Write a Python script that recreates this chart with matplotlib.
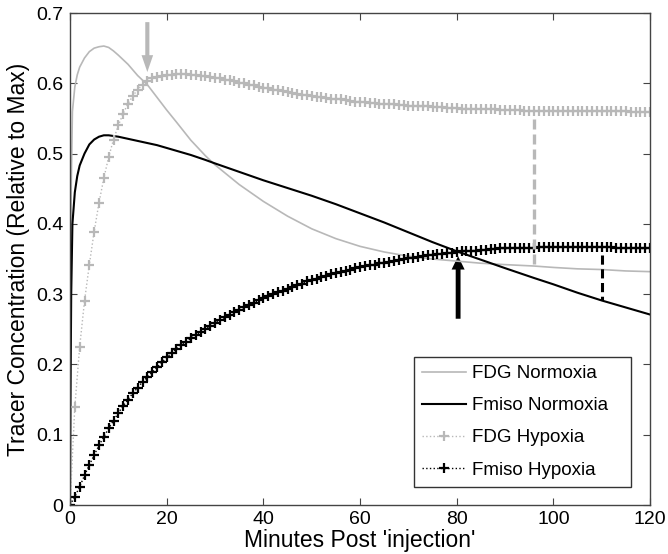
import numpy as np
import matplotlib.pyplot as plt

# normoxia curves (solid lines), sampled more densely near the start
norm_t = [0, 0.1, 0.25, 0.5, 1, 1.5, 2, 3, 4, 5, 6, 7, 8, 9, 10, 12, 14, 16, 18, 20,
          22, 25, 28, 30, 35, 40, 45, 50, 55, 60, 65, 70, 75, 80, 85, 90, 96, 100,
          105, 110, 115, 120]
fdg_norm = [0.0, 0.25, 0.45, 0.56, 0.595, 0.612, 0.623, 0.636, 0.645, 0.650, 0.652,
            0.653, 0.651, 0.646, 0.640, 0.627, 0.611, 0.598, 0.580, 0.562, 0.545,
            0.519, 0.497, 0.484, 0.456, 0.432, 0.411, 0.393, 0.379, 0.368, 0.360,
            0.354, 0.350, 0.347, 0.344, 0.342, 0.340, 0.338, 0.336, 0.335, 0.333,
            0.332]
fmiso_norm = [0.0, 0.15, 0.30, 0.40, 0.445, 0.468, 0.483, 0.500, 0.513, 0.520, 0.524,
              0.526, 0.526, 0.525, 0.524, 0.521, 0.518, 0.515, 0.512, 0.508, 0.504,
              0.498, 0.491, 0.486, 0.474, 0.462, 0.451, 0.440, 0.428, 0.415, 0.402,
              0.388, 0.374, 0.361, 0.349, 0.337, 0.323, 0.314, 0.302, 0.291, 0.281,
              0.271]

# hypoxia curves (dotted with + markers), one sample per minute 0..120
hyp_t = list(range(121))
fdg_hyp = [
    0.000, 0.140, 0.225, 0.290, 0.342, 0.389, 0.430, 0.465, 0.495, 0.520,
    0.540, 0.557, 0.571, 0.582, 0.591, 0.598, 0.603, 0.607, 0.609, 0.611,
    0.612, 0.612, 0.613, 0.613, 0.613, 0.612, 0.612, 0.611, 0.610, 0.609,
    0.608, 0.607, 0.605, 0.604, 0.603, 0.601, 0.600, 0.598, 0.597, 0.595,
    0.594, 0.593, 0.591, 0.590, 0.589, 0.588, 0.586, 0.585, 0.584, 0.583,
    0.582, 0.581, 0.580, 0.579, 0.578, 0.577, 0.577, 0.576, 0.575, 0.574,
    0.574, 0.573, 0.572, 0.572, 0.571, 0.571, 0.570, 0.570, 0.569, 0.569,
    0.568, 0.568, 0.567, 0.567, 0.567, 0.566, 0.566, 0.566, 0.565, 0.565,
    0.565, 0.564, 0.564, 0.564, 0.564, 0.563, 0.563, 0.563, 0.563, 0.562,
    0.562, 0.562, 0.562, 0.562, 0.561, 0.561, 0.561, 0.561, 0.561, 0.561,
    0.560, 0.560, 0.560, 0.560, 0.560, 0.560, 0.560, 0.560, 0.560, 0.560,
    0.560, 0.560, 0.560, 0.560, 0.560, 0.560, 0.559, 0.559, 0.559, 0.559,
    0.559]
fmiso_hyp = [
    0.000, 0.012, 0.026, 0.042, 0.057, 0.071, 0.085, 0.097, 0.109, 0.120,
    0.131, 0.141, 0.150, 0.159, 0.167, 0.175, 0.182, 0.189, 0.196, 0.203,
    0.210, 0.216, 0.222, 0.227, 0.232, 0.237, 0.242, 0.246, 0.250, 0.255,
    0.259, 0.263, 0.267, 0.271, 0.274, 0.278, 0.281, 0.284, 0.288, 0.291,
    0.294, 0.297, 0.300, 0.303, 0.305, 0.308, 0.310, 0.313, 0.315, 0.318,
    0.320, 0.322, 0.324, 0.326, 0.328, 0.330, 0.332, 0.333, 0.335, 0.337,
    0.338, 0.340, 0.341, 0.342, 0.344, 0.345, 0.346, 0.347, 0.349, 0.350,
    0.351, 0.352, 0.353, 0.354, 0.355, 0.356, 0.357, 0.357, 0.358, 0.359,
    0.360, 0.361, 0.361, 0.362, 0.362, 0.363, 0.363, 0.364, 0.364, 0.365,
    0.365, 0.365, 0.366, 0.366, 0.366, 0.366, 0.366, 0.367, 0.367, 0.367,
    0.367, 0.367, 0.367, 0.367, 0.367, 0.367, 0.367, 0.367, 0.367, 0.367,
    0.367, 0.367, 0.367, 0.366, 0.366, 0.366, 0.366, 0.366, 0.365, 0.365,
    0.365]

labels = ["FDG Normoxia", "Fmiso Normoxia", "FDG Hypoxia", "Fmiso Hypoxia"]
GRAY = "#b8b8b8"

plt.rcParams["font.family"] = ["Liberation Sans", "DejaVu Sans"]

fig = plt.figure(figsize=(6.68, 5.54), dpi=100)
ax = fig.add_axes([70 / 668, 49 / 554, 580 / 668, 492 / 554])

ax.plot(norm_t, fdg_norm, color=GRAY, lw=1.2, label=labels[0])
ax.plot(norm_t, fmiso_norm, color="black", lw=1.5, label=labels[1])
ax.plot(hyp_t, fdg_hyp, color=GRAY, ls=":", lw=1.0, marker="+", ms=6.5,
        mew=1.6, label=labels[2])
ax.plot(hyp_t, fmiso_hyp, color="black", ls=":", lw=1.0, marker="+", ms=6.5,
        mew=1.6, label=labels[3])

# dashed gaps between hypoxia and normoxia at two time points
i96 = norm_t.index(96)
i110 = norm_t.index(110)
ax.plot([96, 96], [fdg_hyp[96] - 0.012, fdg_norm[i96]], color=GRAY, ls=(0, (3, 1.5)),
        lw=2.4)
ax.plot([110, 110], [fmiso_hyp[110] - 0.012, fmiso_norm[i110]], color="black",
        ls=(0, (3, 1.5)), lw=2.2)

# arrows marking the crossings
tip = fdg_hyp[16] + 0.013
ax.arrow(16, tip + 0.071, 0, -0.071, width=0.85, head_width=2.4, head_length=0.024,
         length_includes_head=True, color=GRAY, lw=0)
tip = fmiso_hyp[80] - 0.006
ax.arrow(80.3, tip - 0.089, 0, 0.089, width=1.0, head_width=2.7, head_length=0.019,
         length_includes_head=True, color="black", lw=0)

ax.set_xlim(0, 120)
ax.set_ylim(0, 0.7)
ax.set_xticks(np.arange(0, 121, 20))
ax.set_yticks(np.arange(0, 0.71, 0.1))
ax.set_yticklabels(["0", "0.1", "0.2", "0.3", "0.4", "0.5", "0.6", "0.7"])
ax.tick_params(direction="in", length=5, width=0.8, top=True, right=True,
               labelsize=14, color="#444444")
ax.tick_params(axis="x", pad=4)
ax.tick_params(axis="y", pad=5)
for s in ax.spines.values():
    s.set_color("#444444")
    s.set_linewidth(1.0)

ax.set_xlabel("Minutes Post 'injection'", fontsize=16.5, labelpad=1)
ax.set_ylabel("Tracer Concentration (Relative to Max)", fontsize=16.5, labelpad=4)

leg = ax.legend(loc="lower left", bbox_to_anchor=((414 - 70) / 580, 18 / 492,
                                                  217 / 580, 0.2),
                mode="expand", borderaxespad=0,
                fontsize=13.5, fancybox=False, framealpha=1, edgecolor="#333333",
                handlelength=2.3, handletextpad=0.35, labelspacing=0.8,
                borderpad=0.45, numpoints=1)
leg.get_frame().set_linewidth(1.0)

fig.savefig("out.png", dpi=100, facecolor="white")
